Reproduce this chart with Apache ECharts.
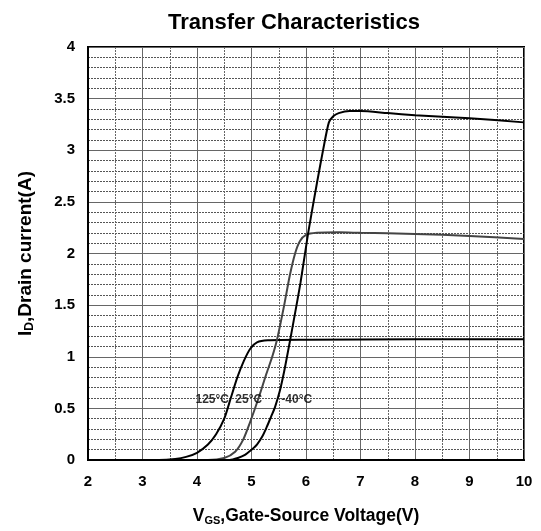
<!DOCTYPE html>
<html>
<head>
<meta charset="utf-8">
<script src="https://cdn.jsdelivr.net/npm/echarts@6/dist/echarts.min.js"></script>
<style>
  html, body { margin: 0; padding: 0; background: #fff; }
  #chart { width: 541px; height: 531px; }
</style>
</head>
<body>
<div id="chart"></div>
<script>
// Transfer characteristics: drain current vs gate-source voltage at three temperatures
const xTickLabels = ['2', '3', '4', '5', '6', '7', '8', '9', '10'];
const yTickLabels = ['0', '0.5', '1', '1.5', '2', '2.5', '3', '3.5', '4'];

// [VGS (V), ID (A)]
const curve125 = [
  [2, 0], [3.3, 0], [3.6, 0.01], [3.8, 0.03], [4.0, 0.07], [4.2, 0.15], [4.35, 0.25],
  [4.5, 0.4], [4.62, 0.6], [4.74, 0.8], [4.86, 0.96], [4.98, 1.08], [5.1, 1.14],
  [5.3, 1.16], [6, 1.165], [8, 1.17], [10, 1.17]
];
const curve25 = [
  [2, 0], [4.2, 0], [4.5, 0.02], [4.7, 0.08], [4.85, 0.2], [4.97, 0.36], [5.13, 0.6],
  [5.27, 0.83], [5.38, 1.0], [5.47, 1.17], [5.6, 1.5], [5.7, 1.78], [5.8, 2.0],
  [5.89, 2.12], [6.0, 2.18], [6.2, 2.2], [6.6, 2.205], [7, 2.2], [8, 2.19],
  [9, 2.17], [10, 2.14]
];
const curveM40 = [
  [2, 0], [4.6, 0], [4.75, 0.02], [4.88, 0.05], [5.0, 0.1], [5.1, 0.15], [5.2, 0.23],
  [5.28, 0.32], [5.36, 0.42], [5.43, 0.51], [5.52, 0.67], [5.6, 0.86], [5.68, 1.08],
  [5.74, 1.25], [5.9, 1.72], [6.04, 2.2], [6.2, 2.68], [6.32, 3.02], [6.42, 3.27],
  [6.5, 3.33], [6.6, 3.36], [6.8, 3.38], [7.0, 3.38], [7.5, 3.36], [8, 3.34],
  [9, 3.31], [10, 3.27]
];
// Temperature tags: [VGS, ID, text]
const tempTags = [
  [4.28, 0.58, '125°C'],
  [4.95, 0.58, '25°C'],
  [5.83, 0.58, '-40°C']
];

const FONT = '"Liberation Sans", Arial, sans-serif';
const chart = echarts.init(document.getElementById('chart'), null, { renderer: 'canvas' });

function lineSeries(data, color) {
  return {
    type: 'line', data: data, smooth: 0.25, showSymbol: false, symbol: 'none',
    lineStyle: { color: color, width: 2 }, z: 5, silent: true
  };
}

chart.setOption({
  backgroundColor: '#fff',
  animation: false,
  title: {
    text: 'Transfer Characteristics', left: 163, top: 7,
    textStyle: { fontFamily: FONT, fontWeight: 'bold', fontSize: 22, color: '#000' }
  },
  grid: { left: 88, right: 17, top: 47, bottom: 68, show: true, borderColor: '#000', borderWidth: 2 },
  xAxis: {
    type: 'value', min: 2, max: 10, interval: 1,
    name: '{b|V}{s|GS}{b|,Gate-Source Voltage(V)}', nameLocation: 'middle', nameGap: 47,
    nameTextStyle: {
      rich: {
        b: { fontFamily: FONT, fontWeight: 'bold', fontSize: 17.5, color: '#000' },
        s: { fontFamily: FONT, fontWeight: 'bold', fontSize: 11, color: '#000', verticalAlign: 'bottom', padding: [8, 0, 0, 0] }
      }
    },
    axisLine: { show: true, lineStyle: { color: '#000', width: 2 } },
    axisTick: { show: false },
    axisLabel: {
      fontFamily: FONT, fontWeight: 'bold', fontSize: 15, color: '#000', margin: 14,
      formatter: v => { const i = Math.round(v - 2); return xTickLabels[i] !== undefined ? xTickLabels[i] : ''; }
    },
    splitLine: { show: true, lineStyle: { color: '#666', width: 1 } },
    minorTick: { show: false, splitNumber: 2 },
    minorSplitLine: { show: true, lineStyle: { color: '#666', width: 1, type: [2, 1] } }
  },
  yAxis: {
    type: 'value', min: 0, max: 4, interval: 0.5,
    name: '{b|I}{s|D}{b|,Drain current(A)}', nameLocation: 'middle', nameGap: 52, nameRotate: 90,
    nameTextStyle: {
      rich: {
        b: { fontFamily: FONT, fontWeight: 'bold', fontSize: 19, color: '#000' },
        s: { fontFamily: FONT, fontWeight: 'bold', fontSize: 12, color: '#000', verticalAlign: 'bottom', padding: [8, 0, 0, 0] }
      }
    },
    axisLine: { show: true, lineStyle: { color: '#000', width: 2 } },
    axisTick: { show: false },
    axisLabel: {
      fontFamily: FONT, fontWeight: 'bold', fontSize: 15, color: '#000', margin: 13,
      formatter: v => { const i = Math.round(v / 0.5); return yTickLabels[i] !== undefined ? yTickLabels[i] : ''; }
    },
    splitLine: { show: true, lineStyle: { color: '#666', width: 1 } },
    minorTick: { show: false, splitNumber: 5 },
    minorSplitLine: { show: true, lineStyle: { color: '#555', width: 1, type: [2, 1] } }
  },
  series: [
    lineSeries(curve125, '#000'),
    lineSeries(curve25, '#444'),
    lineSeries(curveM40, '#000'),
    {
      type: 'scatter', data: tempTags, symbolSize: 0, silent: true, z: 6,
      label: {
        show: true, position: 'inside', formatter: p => p.data[2],
        fontFamily: FONT, fontWeight: 'bold', fontSize: 12, color: '#000'
      }
    }
  ]
});
</script>
</body>
</html>
